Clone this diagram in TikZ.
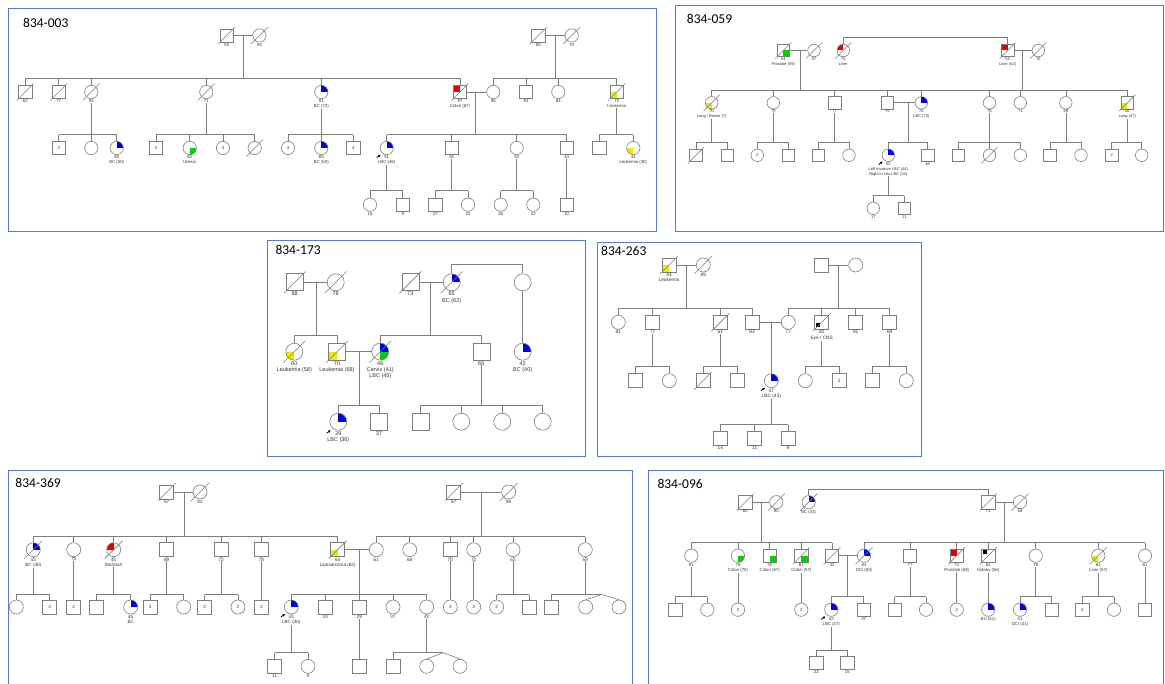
\documentclass[tikz,border=0pt]{standalone}
\usepackage{fontspec}
\setmainfont{Liberation Sans}
\newfontfamily\ttlfont{Carlito}
\usetikzlibrary{backgrounds,arrows.meta}
\definecolor{lnc}{RGB}{125,125,125}
\definecolor{bx}{RGB}{88,122,200}
\definecolor{qb}{RGB}{0,0,230}
\definecolor{qg}{RGB}{0,210,0}
\definecolor{qr}{RGB}{230,0,0}
\definecolor{qy}{RGB}{235,235,0}
\newcommand\setsz[1]{\def\s{#1}\def\sdim{#1pt}}
\newcommand\pS[4]{\node[sq] (#1) at (#2,#3) {#4};}
\newcommand\pC[4]{\node[ci] (#1) at (#2,#3) {#4};}
\newcommand\plab[2]{\node[lab] (#1l) at ([yshift=-0.3pt]#1.south) {#2};}
\newcommand\pdec[1]{\draw[ln] (#1.center) ++(-0.64*\s,0.64*\s) -- ++(1.28*\s,-1.28*\s);}
\newcommand\pqs[4]{\fill[#2] (#1.center) rectangle ++(#3*\s/2,#4*\s/2);}
\newcommand\pqc[4]{\begin{scope}\clip (#1.center) circle[radius=\s/2];\fill[#2] (#1.center) rectangle ++(#3*\s/2,#4*\s/2);\end{scope}}
\newcommand\pblk[3]{\fill[black] (#1.center) ++(#2-2,#3-2) rectangle ++(4,4);}
\newcommand\pprb[1]{\draw[black,line width=0.8pt,-{Latex[length=2.4pt,width=2.8pt]}] (#1.center) ++(-0.45*\s-4,0.5*\s+3) -- ++(4,-3);}
\newcommand\pmar[2]{\draw[ln] (#1.east) -- (#2.west);}
\newcommand\pdsc[4]{\coordinate (#1) at (#2,#3);\draw[ln] (#1) -- (#1 |- 0,#4);}
\newcommand\pdown[2]{\draw[ln] (#1.south) -- (#1.south |- 0,#2);}
\newcommand\psbar[3]{\draw[ln] (#2.north |- 0,#1) -- (#3.north |- 0,#1);}
\newcommand\psib[2]{\foreach \nn in {#2}{\draw[ln] (\nn.north) -- (\nn.north |- 0,#1);}}
\newcommand\ptitle[4]{\node[anchor=base west,inner sep=0pt,font=\ttlfont\fontsize{13.5}{14}\selectfont] (#1) at (#2,#3) {#4};}
\def\lfnt{\fontsize{4.3}{4.9}\selectfont}
\tikzset{
 sq/.style={rectangle,draw=lnc,line width=0.6pt,minimum size=\sdim,inner sep=0pt,font=\lfnt,text=black!80},
 ci/.style={circle,draw=lnc,line width=0.6pt,minimum size=\sdim,inner sep=0pt,font=\lfnt,text=black!80},
 ln/.style={draw=lnc,line width=0.6pt},
 lab/.style={anchor=north,fill=white,inner sep=0.3pt,align=center,font=\lfnt,text=black!80},
 pbox/.style={draw=bx,line width=0.9pt}
}
\begin{document}
\begin{tikzpicture}[x=1pt,y=-1pt]
\useasboundingbox (0,0) rectangle (1165,684);
\begin{pgfonlayer}{background}\fill[white] (0,0) rectangle (1165,684);\end{pgfonlayer}
% panel borders
\draw[pbox] (8.5,8) rectangle (656.5,231);
\draw[pbox] (675,5.5) rectangle (1163.8,231);
\draw[pbox] (267.5,240.5) rectangle (585,456.5);
\draw[pbox] (597.5,242.5) rectangle (921,456.5);
\draw[pbox] (8.5,690) -- (8.5,470.5) -- (632,470.5) -- (632,690);
\draw[pbox] (648.5,690) -- (648.5,470.5) -- (1163.8,470.5) -- (1163.8,690);
\ptitle{t1}{23}{28}{834-003}
\ptitle{t2}{686.7}{23.3}{834-059}
\ptitle{t3}{275.3}{255}{834-173}
\ptitle{t4}{601}{256}{834-263}
\ptitle{t5}{15.3}{487.3}{834-369}
\ptitle{t6}{657.3}{488.3}{834-096}
%================ PANEL 1
\setsz{13.3}\def\lfnt{\fontsize{4.3}{4.9}\selectfont}
\pS{a1}{226.5}{35.5}{}\pC{a2}{259.5}{35.5}{}
\pS{a3}{25.3}{92}{}\pS{a4}{58.7}{92}{}\pC{a5}{91.3}{92}{}\pC{a6}{206.3}{92}{}\pC{a7}{321.3}{92}{}\pS{a8}{460}{92}{}
\pC{a9}{493.3}{92}{}\pS{a10}{538.3}{35.5}{}\pC{a11}{571.7}{35.5}{}\pS{a12}{526}{92}{}\pC{a13}{558.3}{92}{}\pS{a14}{616.7}{92}{}
\pS{a15}{58.7}{148}{2}\pC{a16}{91.3}{148}{}\pC{a17}{116.7}{148}{}
\pS{a18}{156}{148}{2}\pC{a19}{189.7}{148}{}\pC{a20}{223}{148}{3}\pC{a21}{254.7}{148}{}
\pC{a22}{288}{148}{3}\pC{a23}{321.3}{148}{}\pS{a24}{353.3}{148}{4}
\pC{a25}{386.7}{148}{}\pS{a26}{451.7}{148}{}\pC{a27}{516.7}{148}{}\pS{a28}{566.7}{148}{}
\pS{a29}{599.3}{148}{}\pC{a30}{633.3}{148}{}
\pC{a31}{370}{204.7}{}\pS{a32}{402.7}{204.7}{}\pS{a33}{435.3}{204.7}{}\pC{a34}{468}{204.7}{}\pC{a35}{500.7}{204.7}{}\pC{a36}{533.3}{204.7}{}\pS{a37}{566.7}{204.7}{}
\begin{pgfonlayer}{background}
\pmar{a1}{a2}\pdsc{am1}{243}{35.5}{78}
\pmar{a10}{a11}\pdsc{am2}{555}{35.5}{78}
\psbar{78}{a3}{a8}\psib{78}{a3,a4,a5,a6,a7,a8}
\psbar{78}{a9}{a14}\psib{78}{a9,a12,a13,a14}
\pmar{a8}{a9}\pdsc{am3}{475.7}{92}{134.7}
\pdown{a5}{134.7}\psbar{134.7}{a15}{a17}\psib{134.7}{a15,a16,a17}
\pdown{a6}{134.7}\psbar{134.7}{a18}{a21}\psib{134.7}{a18,a19,a20,a21}
\pdown{a7}{134.7}\psbar{134.7}{a22}{a24}\psib{134.7}{a22,a23,a24}
\psbar{134.7}{a25}{a28}\psib{134.7}{a25,a26,a27,a28}
\pdown{a14}{134.7}\psbar{134.7}{a29}{a30}\psib{134.7}{a29,a30}
\pdown{a25}{190.7}\psbar{190.7}{a31}{a32}\psib{190.7}{a31,a32}
\pdown{a26}{190.7}\psbar{190.7}{a33}{a34}\psib{190.7}{a33,a34}
\pdown{a27}{190.7}\psbar{190.7}{a35}{a36}\psib{190.7}{a35,a36}
\draw[ln] (a28.south) -- (a37.north);
\pqc{a7}{qb}{1}{-1}\pqs{a8}{qr}{-1}{-1}\pqs{a14}{qy}{-1}{1}
\pqc{a17}{qb}{1}{-1}\pqc{a19}{qg}{1}{1}\pqc{a23}{qb}{1}{-1}\pqc{a25}{qb}{1}{-1}\pqc{a30}{qy}{-1}{1}
\end{pgfonlayer}
\plab{a1}{59}\plab{a2}{92}\plab{a3}{62}\plab{a4}{77}\plab{a5}{94}\plab{a6}{71}\plab{a7}{91\\BC (70)}\plab{a8}{97\\Colon (67)}\plab{a9}{96}\plab{a10}{80}\plab{a11}{70}\plab{a12}{91}\plab{a13}{84}\plab{a14}{73\\Leukemia}
\plab{a17}{65\\BC (50)}\plab{a19}{60\\Uterus}\plab{a23}{65\\BC (50)}\plab{a25}{51\\LBC (46)}\plab{a26}{55}\plab{a27}{53}\plab{a28}{44}\plab{a30}{44\\Leukemia (30)}
\plab{a31}{16}\plab{a32}{9}\plab{a33}{27}\plab{a34}{24}\plab{a35}{26}\plab{a36}{22}\plab{a37}{10}
\pdec{a1}\pdec{a2}\pdec{a3}\pdec{a4}\pdec{a5}\pdec{a6}\pdec{a8}\pdec{a10}\pdec{a11}\pdec{a14}\pdec{a21}
\pprb{a25}
%================ PANEL 2
\setsz{12.5}\def\lfnt{\fontsize{4}{4.8}\selectfont}
\pS{b1}{783.3}{50.5}{}\pC{b2}{814}{50.5}{}\pC{b3}{843.3}{50.5}{}\pS{b4}{1007.7}{50.5}{}\pC{b5}{1038.3}{50.5}{}
\pC{b6}{711.7}{102.8}{}\pC{b7}{773.3}{102.8}{}\pS{b8}{834.7}{102.8}{}\pS{b9}{887.3}{102.8}{}\pC{b10}{921.3}{102.8}{}\pC{b11}{989.5}{102.8}{}\pC{b12}{1020.3}{102.8}{}\pC{b13}{1065.8}{102.8}{}\pS{b14}{1127.3}{102.8}{}
\pS{b15}{696}{155.3}{}\pS{b16}{727.3}{155.3}{}\pC{b17}{757.3}{155.3}{2}\pS{b18}{788.3}{155.3}{}\pS{b19}{818.3}{155.3}{}\pC{b20}{849}{155.3}{}\pC{b21}{888.3}{155.3}{}\pS{b22}{927.7}{155.3}{}\pS{b23}{958.3}{155.3}{}\pC{b24}{989.5}{155.3}{}\pC{b25}{1020.3}{155.3}{}\pS{b26}{1050}{155.3}{}\pC{b27}{1081}{155.3}{}\pS{b28}{1111.7}{155.3}{2}\pC{b29}{1141.7}{155.3}{}
\pC{b30}{873.3}{208.3}{}\pS{b31}{904.3}{208.3}{}
\begin{pgfonlayer}{background}
\pmar{b1}{b2}\pdsc{bm1}{800}{50.5}{90}
\psbar{37.7}{b3}{b4}\psib{37.7}{b3,b4}
\pmar{b4}{b5}\pdsc{bm2}{1022.7}{50.5}{90}
\psbar{90}{b6}{b14}\psib{90}{b6,b7,b8,b9,b10,b11,b12,b13,b14}
\pmar{b9}{b10}\pdsc{bm3}{908.3}{102.8}{142.3}
\pdown{b6}{142.3}\psbar{142.3}{b15}{b16}\psib{142.3}{b15,b16}
\pdown{b7}{142.3}\psbar{142.3}{b17}{b18}\psib{142.3}{b17,b18}
\pdown{b8}{142.3}\psbar{142.3}{b19}{b20}\psib{142.3}{b19,b20}
\psbar{142.3}{b21}{b22}\psib{142.3}{b21,b22}
\pdown{b11}{142.3}\psbar{142.3}{b23}{b25}\psib{142.3}{b23,b24,b25}
\pdown{b13}{142.3}\psbar{142.3}{b26}{b27}\psib{142.3}{b26,b27}
\pdown{b14}{142.3}\psbar{142.3}{b28}{b29}\psib{142.3}{b28,b29}
\pdown{b21}{195.7}\psbar{195.7}{b30}{b31}\psib{195.7}{b30,b31}
\pqs{b1}{qg}{1}{1}\pqc{b3}{qr}{-1}{-1}\pqs{b4}{qr}{-1}{-1}\pqc{b6}{qy}{-1}{1}\pqc{b10}{qb}{1}{-1}\pqs{b14}{qy}{-1}{1}\pqc{b21}{qb}{1}{-1}
\end{pgfonlayer}
\plab{b1}{84\\Prostate (59)}\plab{b2}{87}\plab{b3}{70\\Liver}\plab{b4}{53\\Liver (52)}\plab{b5}{76}
\plab{b6}{70\\Lung / Bones (?)}\plab{b7}{79}\plab{b8}{77}\plab{b9}{75}\plab{b10}{76\\LBC (73)}\plab{b11}{75}\plab{b12}{71}\plab{b13}{69}\plab{b14}{46\\Lung (47)}
\plab{b21}{50\\Left invasive LBC (44)\\Right in situ LBC (44)}\plab{b22}{46}\plab{b30}{17}\plab{b31}{11}
\pdec{b1}\pdec{b2}\pdec{b3}\pdec{b4}\pdec{b5}\pdec{b6}\pdec{b14}\pdec{b15}\pdec{b24}
\pprb{b21}
%================ PANEL 3
\setsz{17}\def\lfnt{\fontsize{5.5}{6.3}\selectfont}
\pS{c1}{294.7}{282.3}{}\pC{c2}{335.7}{282.3}{}\pS{c3}{410.3}{282.3}{}\pC{c4}{451.7}{282.3}{}\pC{c5}{522.7}{282.3}{}
\pC{c6}{294.3}{351.7}{}\pS{c7}{337}{351.7}{}\pC{c8}{380.3}{351.7}{}\pS{c9}{481.3}{351.7}{}\pC{c10}{522.7}{351.7}{}
\pC{c11}{338.3}{421.7}{}\pS{c12}{379}{421.7}{}\pS{c13}{420.3}{421.7}{}\pC{c14}{461.3}{421.7}{}\pC{c15}{502.3}{421.7}{}\pC{c16}{542.7}{421.7}{}
\begin{pgfonlayer}{background}
\pmar{c1}{c2}\pdsc{cm1}{316}{282.3}{335}
\pmar{c3}{c4}\pdsc{cm2}{430.3}{282.3}{335}
\psbar{264}{c4}{c5}\psib{264}{c4,c5}
\psbar{335}{c6}{c7}\psib{335}{c6,c7}
\psbar{335}{c8}{c9}\psib{335}{c8,c9}
\pmar{c7}{c8}\pdsc{cm3}{359.3}{351.7}{405}
\draw[ln] (c5.south) -- (c10.north);
\psbar{405}{c11}{c12}\psib{405}{c11,c12}
\pdown{c9}{405}\psbar{405}{c13}{c16}\psib{405}{c13,c14,c15,c16}
\pqc{c4}{qb}{1}{-1}\pqc{c6}{qy}{-1}{1}\pqs{c7}{qy}{-1}{1}\pqc{c8}{qb}{1}{-1}\pqc{c8}{qg}{1}{1}\pqc{c10}{qb}{1}{-1}\pqc{c11}{qb}{1}{-1}
\end{pgfonlayer}
\plab{c1}{88}\plab{c2}{78}\plab{c3}{73}\plab{c4}{65\\BC (62)}\plab{c6}{60\\Leukemia (58)}\plab{c7}{70\\Leukemia (68)}\plab{c8}{46\\Cervix (41)\\LBC (45)}\plab{c9}{66}\plab{c10}{42\\BC (40)}\plab{c11}{39\\LBC (36)}\plab{c12}{37}
\pdec{c1}\pdec{c2}\pdec{c3}\pdec{c4}\pdec{c6}\pdec{c7}\pdec{c8}
\pprb{c11}
%================ PANEL 4
\setsz{14}\def\lfnt{\fontsize{4.8}{5.5}\selectfont}
\pS{d1}{669}{265}{}\pC{d2}{703.3}{265}{}\pS{d3}{821.7}{265}{}\pC{d4}{855.7}{265}{}
\pC{d5}{618.3}{322.3}{}\pS{d6}{652.7}{322.3}{}\pS{d7}{720.3}{322.3}{}\pS{d8}{752}{322.3}{}\pC{d9}{788.3}{322.3}{}\pS{d10}{821.7}{322.3}{}\pS{d11}{855.7}{322.3}{}\pS{d12}{889.7}{322.3}{}
\pS{d13}{635.3}{380.7}{}\pC{d14}{669.3}{380.7}{}\pS{d16}{703}{380.7}{}\pS{d17}{737}{380.7}{}\pC{d15}{771.3}{380.7}{}\pC{d18}{805.3}{380.7}{}\pS{d19}{839.3}{380.7}{2}\pS{d20}{872.3}{380.7}{}\pC{d21}{906.3}{380.7}{}
\pS{d22}{720.3}{438.3}{}\pS{d23}{754.7}{438.3}{}\pS{d24}{788}{438.3}{}
\begin{pgfonlayer}{background}
\pmar{d1}{d2}\pdsc{dm1}{686}{265}{308}
\pmar{d3}{d4}\pdsc{dm2}{838.7}{265}{308}
\psbar{308}{d5}{d8}\psib{308}{d5,d6,d7,d8}
\psbar{308}{d9}{d12}\psib{308}{d9,d10,d11,d12}
\pmar{d8}{d9}\coordinate (dm3) at (771.3,322.3);\draw[ln] (dm3) -- (d15.north);
\pdown{d6}{366}\psbar{366}{d13}{d14}\psib{366}{d13,d14}
\pdown{d7}{366}\psbar{366}{d16}{d17}\psib{366}{d16,d17}
\pdown{d10}{366}\psbar{366}{d18}{d19}\psib{366}{d18,d19}
\pdown{d12}{366}\psbar{366}{d20}{d21}\psib{366}{d20,d21}
\pdown{d15}{424.7}\psbar{424.7}{d22}{d24}\psib{424.7}{d22,d23,d24}
\pqs{d1}{qy}{-1}{1}\pqc{d15}{qb}{1}{-1}\pblk{d10}{-3.5}{2.9}
\end{pgfonlayer}
\plab{d1}{44\\Leukemia}\plab{d2}{89}\plab{d5}{81}\plab{d6}{77}\plab{d7}{61}\plab{d8}{83}\plab{d9}{77}\plab{d10}{82\\Eye / CNS}\plab{d11}{91}\plab{d12}{69}
\plab{d15}{47\\LBC (43)}\plab{d22}{14}\plab{d23}{11}\plab{d24}{9}
\pdec{d1}\pdec{d2}\pdec{d7}\pdec{d10}\pdec{d16}
\pprb{d15}
%================ PANEL 5
\setsz{14}\def\lfnt{\fontsize{4.6}{5.3}\selectfont}
\pS{e1}{166.7}{492}{}\pC{e2}{200}{492}{}\pS{e3}{453.7}{492}{}\pC{e4}{508.7}{492}{}
\pC{e5}{33.3}{549.7}{}\pC{e6}{73.7}{549.7}{}\pC{e7}{113.7}{549.7}{}\pS{e8}{166.7}{549.7}{}\pS{e9}{221.3}{549.7}{}\pS{e10}{261.3}{549.7}{}\pS{e11}{337.7}{549.7}{}
\pC{e12}{376.3}{549.7}{}\pC{e13}{409.7}{549.7}{}\pS{e14}{450.3}{549.7}{}\pC{e15}{473.7}{549.7}{}\pC{e16}{513}{549.7}{}\pC{e17}{585.3}{549.7}{}
\pC{e18}{16.3}{607}{}\pS{e19}{49.7}{607}{3}\pS{e20}{73.7}{607}{2}\pS{e21}{96.3}{607}{}\pC{e22}{130.7}{607}{}\pS{e23}{150.3}{607}{2}\pC{e24}{183.7}{607}{}\pS{e25}{204.7}{607}{2}\pC{e26}{238}{607}{2}\pS{e27}{261.3}{607}{2}
\pC{e28}{291.3}{607}{}\pS{e29}{325.3}{607}{}\pS{e30}{359.3}{607}{}\pC{e31}{393}{607}{}\pC{e32}{426.7}{607}{}\pC{e33}{450.3}{607}{3}\pC{e34}{473.7}{607}{3}\pC{e35}{496.7}{607}{2}\pS{e36}{529.3}{607}{}\pS{e37}{551.7}{607}{}\pC{e38}{585.7}{607}{}\pC{e39}{619}{607}{}
\pS{e40}{274.7}{666.3}{}\pC{e41}{308}{666.3}{}\pS{e42}{359.3}{666.3}{}\pS{e43}{393}{666.3}{}\pC{e44}{426.7}{666.3}{}\pC{e45}{460}{666.3}{}
\begin{pgfonlayer}{background}
\pmar{e1}{e2}\pdsc{em1}{184.7}{492}{536.7}
\pmar{e3}{e4}\pdsc{em2}{481}{492}{536.7}
\psbar{536.7}{e5}{e11}\psib{536.7}{e5,e6,e7,e8,e9,e10,e11}
\psbar{536.7}{e12}{e17}\psib{536.7}{e12,e13,e14,e15,e16,e17}
\pmar{e11}{e12}\pdsc{em3}{359.3}{549.7}{594.5}
\pdown{e5}{594.5}\psbar{594.5}{e18}{e19}\psib{594.5}{e18,e19}
\draw[ln] (e6.south) -- (e20.north);
\pdown{e7}{594.5}\psbar{594.5}{e21}{e22}\psib{594.5}{e21,e22}
\pdown{e8}{594.5}\psbar{594.5}{e23}{e24}\psib{594.5}{e23,e24}
\pdown{e9}{594.5}\psbar{594.5}{e25}{e26}\psib{594.5}{e25,e26}
\draw[ln] (e10.south) -- (e27.north);
\psbar{594.5}{e28}{e32}\psib{594.5}{e28,e29,e30,e31,e32}
\draw[ln] (e14.south) -- (e33.north);
\draw[ln] (e15.south) -- (e34.north);
\pdown{e16}{594.5}\psbar{594.5}{e35}{e36}\psib{594.5}{e35,e36}
\pdown{e17}{594.5}\coordinate (ea1) at (601.7,594.5);\draw[ln] (e37.north) |- (ea1);\draw[ln] (ea1) -- (e38.north);\draw[ln] (ea1) -- (e39.north);
\pdown{e28}{652.7}\psbar{652.7}{e40}{e41}\psib{652.7}{e40,e41}
\draw[ln] (e30.south) -- (e42.north);
\pdown{e32}{652.7}\coordinate (ea2) at (443.3,652.7);\draw[ln] (e43.north) |- (ea2);\draw[ln] (ea2) -- (e44.north);\draw[ln] (ea2) -- (e45.north);
\pqc{e5}{qb}{1}{-1}\pqc{e7}{qr}{-1}{-1}\pqs{e11}{qy}{-1}{1}\pqc{e22}{qb}{1}{-1}\pqc{e28}{qb}{1}{-1}
\end{pgfonlayer}
\plab{e1}{57}\plab{e2}{82}\plab{e3}{67}\plab{e4}{88}\plab{e5}{43\\BC (40)}\plab{e6}{75}\plab{e7}{40\\Stomach}\plab{e8}{69}\plab{e9}{72}\plab{e10}{78}\plab{e11}{63\\Liposarcoma (62)}
\plab{e12}{61}\plab{e13}{68}\plab{e14}{70}\plab{e15}{72}\plab{e16}{63}\plab{e17}{59}
\plab{e22}{45\\BC}\plab{e28}{44\\LBC (40)}\plab{e29}{24}\plab{e30}{29}\plab{e31}{37}\plab{e32}{42}\plab{e40}{11}\plab{e41}{9}
\pdec{e1}\pdec{e2}\pdec{e3}\pdec{e4}\pdec{e5}\pdec{e7}\pdec{e11}
\pprb{e28}
%================ PANEL 6
\setsz{13.3}\def\lfnt{\fontsize{4.3}{4.9}\selectfont}
\pS{f1}{745.3}{502.2}{}\pC{f2}{776.3}{502.2}{}\pC{f3}{808.7}{502.2}{}\pS{f4}{988.3}{502.2}{}\pC{f5}{1020}{502.2}{}
\pC{f6}{691.3}{555.7}{}\pC{f7}{738}{555.7}{}\pS{f8}{769.7}{555.7}{}\pS{f9}{801.3}{555.7}{}\pS{f10}{832}{555.7}{}\pC{f11}{864}{555.7}{}\pS{f12}{910}{555.7}{}\pS{f13}{956.7}{555.7}{}\pS{f14}{988.3}{555.7}{}\pC{f15}{1035.7}{555.7}{}\pC{f16}{1098.3}{555.7}{}\pC{f17}{1145}{555.7}{}
\pS{f18}{675.3}{609.7}{}\pC{f19}{707.3}{609.7}{}\pC{f20}{738}{609.7}{2}\pC{f21}{801.3}{609.7}{2}\pC{f22}{831.3}{609.7}{}\pS{f23}{863.7}{609.7}{}\pS{f24}{894.7}{609.7}{}\pC{f25}{926}{609.7}{}\pC{f26}{956.7}{609.7}{2}\pC{f27}{988.3}{609.7}{}\pC{f28}{1020}{609.7}{}\pS{f29}{1051.7}{609.7}{}\pS{f30}{1082.3}{609.7}{2}\pC{f31}{1114}{609.7}{}\pS{f32}{1145}{609.7}{}
\pS{f33}{816.3}{663}{}\pS{f34}{847.3}{663}{}
\begin{pgfonlayer}{background}
\pmar{f1}{f2}\pdsc{fm1}{761.3}{502.2}{542.7}
\psbar{489}{f3}{f4}\psib{489}{f3,f4}
\pmar{f4}{f5}\pdsc{fm2}{1004}{502.2}{542.7}
\psbar{542.7}{f6}{f10}\psib{542.7}{f6,f7,f8,f9,f10}
\psbar{542.7}{f11}{f17}\psib{542.7}{f11,f12,f13,f14,f15,f16,f17}
\pmar{f10}{f11}\pdsc{fm3}{847}{555.7}{596.7}
\pdown{f6}{596.7}\psbar{596.7}{f18}{f19}\psib{596.7}{f18,f19}
\draw[ln] (f7.south) -- (f20.north);
\draw[ln] (f9.south) -- (f21.north);
\psbar{596.7}{f22}{f23}\psib{596.7}{f22,f23}
\pdown{f12}{596.7}\psbar{596.7}{f24}{f25}\psib{596.7}{f24,f25}
\draw[ln] (f13.south) -- (f26.north);
\draw[ln] (f14.south) -- (f27.north);
\pdown{f15}{596.7}\psbar{596.7}{f28}{f29}\psib{596.7}{f28,f29}
\pdown{f16}{596.7}\psbar{596.7}{f30}{f31}\psib{596.7}{f30,f31}
\draw[ln] (f17.south) -- (f32.north);
\pdown{f22}{650}\psbar{650}{f33}{f34}\psib{650}{f33,f34}
\pqc{f3}{qb}{1}{-1}\pqc{f7}{qg}{1}{1}\pqs{f8}{qg}{1}{1}\pqs{f9}{qg}{1}{1}\pqc{f11}{qb}{1}{-1}\pqs{f13}{qr}{-1}{-1}\pblk{f14}{-3.1}{-4.2}\pqc{f16}{qy}{-1}{1}
\pqc{f22}{qb}{1}{-1}\pqc{f27}{qb}{1}{-1}\pqc{f28}{qb}{1}{-1}
\end{pgfonlayer}
\plab{f1}{60}\plab{f2}{90}\plab{f3}{BC (44)}\plab{f4}{71}\plab{f5}{58}
\plab{f6}{81}\plab{f7}{79\\Colon (70)}\plab{f8}{75\\Colon (67)}\plab{f9}{81\\Colon (57)}\plab{f10}{42}\plab{f11}{64\\DCI (60)}\plab{f12}{77}\plab{f13}{74\\Prostate (68)}\plab{f14}{64\\Kidney (56)}\plab{f15}{79}\plab{f16}{64\\Liver (57)}\plab{f17}{81}
\plab{f22}{42\\LBC (37)}\plab{f23}{37}\plab{f27}{BC (41)}\plab{f28}{51\\DCI (41)}\plab{f33}{22}\plab{f34}{15}
\pdec{f1}\pdec{f2}\pdec{f3}\pdec{f4}\pdec{f5}\pdec{f9}\pdec{f10}\pdec{f11}\pdec{f13}\pdec{f14}\pdec{f16}
\pprb{f22}
\end{tikzpicture}
\end{document}
